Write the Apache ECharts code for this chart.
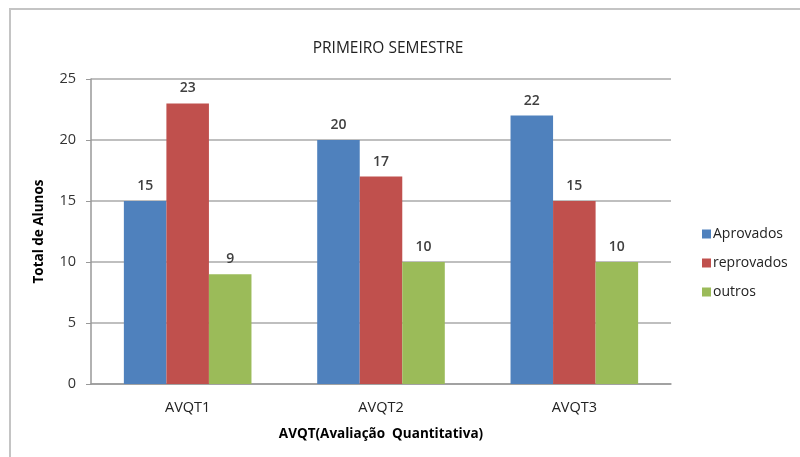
<!DOCTYPE html>
<html><head><meta charset="utf-8">
<script src="https://cdn.jsdelivr.net/npm/echarts@6/dist/echarts.min.js"></script>
<style>html,body{margin:0;padding:0;background:#fff}#c{width:800px;height:457px}</style>
</head><body><div id="c"></div>
<script>
const categories = ['AVQT1', 'AVQT2', 'AVQT3'];
const aprovados = [15, 20, 22];
const reprovados = [23, 17, 15];
const outros = [9, 10, 10];
const seriesNames = ['Aprovados', 'reprovados', 'outros'];
const colors = ['#4F81BD', '#C0504D', '#9BBB59'];
const FONT = 'Open Sans';
const chart = echarts.init(document.getElementById('c'), null, {renderer: 'canvas'});
const lbl = {show: true, position: 'top', distance: 8, color: '#404040', fontSize: 14, fontWeight: 600, fontFamily: FONT};
chart.setOption({
  animation: false,
  textStyle: {fontFamily: FONT},
  title: {text: 'PRIMEIRO SEMESTRE', left: 383, top: 36, textAlign: 'center',
    textStyle: {fontSize: 15.5, fontWeight: 'normal', color: '#222', fontFamily: FONT}},
  legend: {orient: 'vertical', left: 697, top: 222, itemWidth: 9, itemHeight: 9, itemGap: 15,
    icon: 'rect', textStyle: {fontSize: 14, color: '#222', fontFamily: FONT, padding: [0,0,0,-3]}},
  grid: {left: 91, right: 129, top: 79, bottom: 73, containLabel: false},
  xAxis: {type: 'category', data: categories,
    name: 'AVQT(Avaliação  Quantitativa)', nameLocation: 'middle', nameGap: 43,
    nameTextStyle: {fontSize: 13.5, fontWeight: 'bold', color: '#000', fontFamily: FONT},
    axisLine: {lineStyle: {color: '#999', width: 1.5}}, axisTick: {show: false},
    axisLabel: {fontSize: 14.5, color: '#222', margin: 16, fontFamily: FONT}},
  yAxis: {type: 'value', min: 0, max: 25, interval: 5,
    name: 'Total de Alunos', nameLocation: 'middle', nameGap: 45, nameRotate: 90,
    nameTextStyle: {fontSize: 13.5, fontWeight: 'bold', color: '#000', fontFamily: FONT},
    axisLine: {show: true, lineStyle: {color: '#999', width: 1.5}},
    axisTick: {show: true, length: 5, lineStyle: {color: '#999'}},
    axisLabel: {fontSize: 14.5, color: '#333', margin: 15, fontFamily: FONT},
    splitLine: {lineStyle: {color: '#aaa', width: 1.5}}},
  series: [
    {name: seriesNames[0], type: 'bar', data: aprovados, itemStyle: {color: colors[0]}, label: lbl, barGap: '0%', barCategoryGap: '34%'},
    {name: seriesNames[1], type: 'bar', data: reprovados, itemStyle: {color: colors[1]}, label: lbl, barGap: '0%', barCategoryGap: '34%'},
    {name: seriesNames[2], type: 'bar', data: outros, itemStyle: {color: colors[2]}, label: lbl, barGap: '0%', barCategoryGap: '34%'}
  ],
  graphic: [
    {type: 'line', shape: {x1: 9, y1: 9, x2: 800, y2: 9}, style: {stroke: '#c4c4c4', lineWidth: 2}},
    {type: 'line', shape: {x1: 10, y1: 8, x2: 10, y2: 457}, style: {stroke: '#c4c4c4', lineWidth: 2}}
  ]
});
</script></body></html>
